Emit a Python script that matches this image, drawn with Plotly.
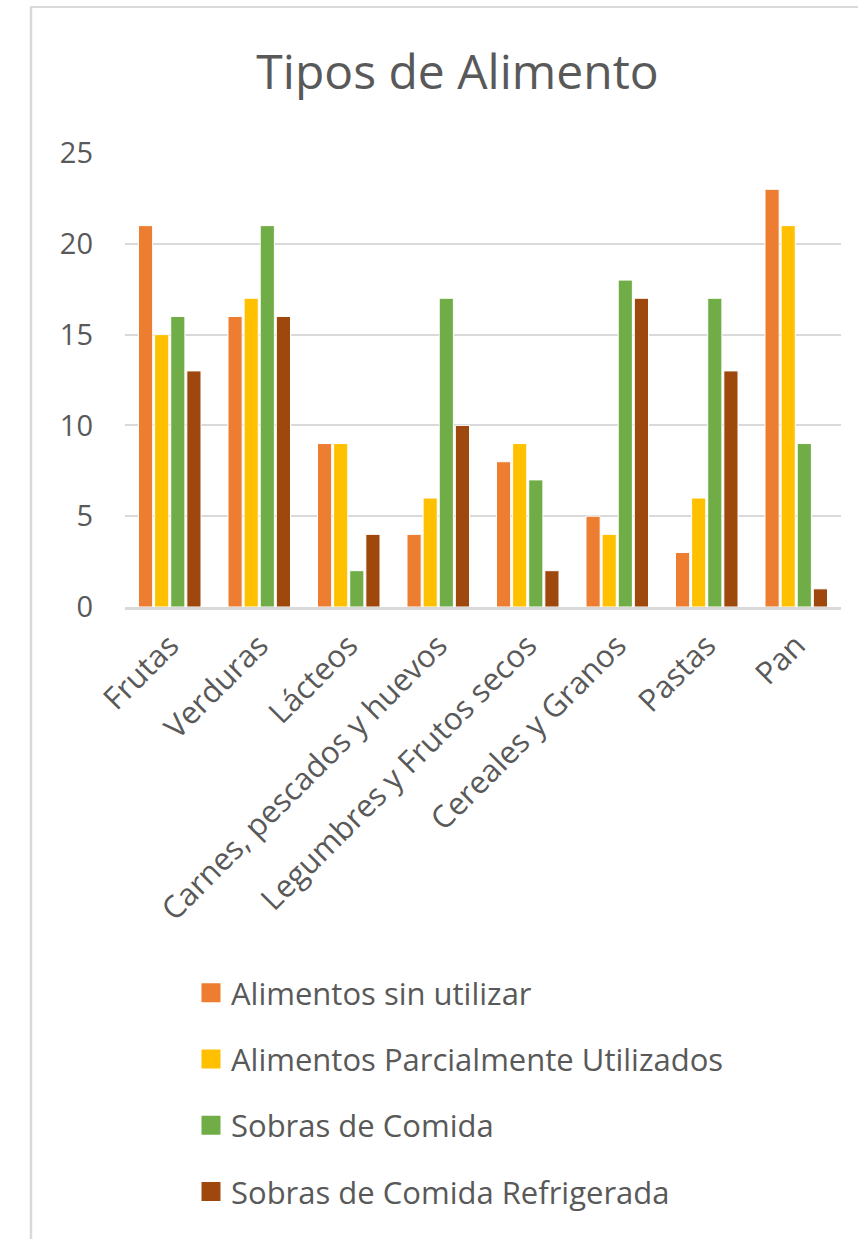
import plotly.graph_objects as go

categorias = ["Frutas", "Verduras", "Lácteos", "Carnes, pescados y huevos",
              "Legumbres y Frutos secos", "Cereales y Granos", "Pastas", "Pan"]

sin_utilizar = [21, 16, 9, 4, 8, 5, 3, 23]
parcialmente_utilizados = [15, 17, 9, 6, 9, 4, 6, 21]
sobras = [16, 21, 2, 17, 7, 18, 17, 9]
sobras_refrigeradas = [13, 16, 4, 10, 2, 17, 13, 1]

series = [
    ("Alimentos sin utilizar", sin_utilizar, "#ED7D31"),
    ("Alimentos Parcialmente Utilizados", parcialmente_utilizados, "#FFC000"),
    ("Sobras de Comida", sobras, "#70AD47"),
    ("Sobras de Comida Refrigerada", sobras_refrigeradas, "#9E480E"),
]

W, H = 858, 1239
L, R, T, B = 125, 17, 153, 632
FONT = "Open Sans"
GRAY = "#595959"
LINE = "#D9D9D9"

fig = go.Figure()
for i, (name, vals, color) in enumerate(series):
    fig.add_trace(go.Bar(
        x=categorias, y=vals, name=name, legendgroup=f"g{i}",
        showlegend=False,
        marker=dict(color=color, line=dict(color="white", width=1)),
    ))
    # square legend key for the series
    fig.add_trace(go.Scatter(
        x=[None], y=[None], mode="markers", name=name, legendgroup=f"g{i}",
        marker=dict(symbol="square", size=20, color=color,
                    line=dict(color=color, width=3)),
    ))

def px_x(px):
    return (px - L) / (W - L - R)

def px_y(py):
    return (H - B - py) / (H - T - B)

fig.update_layout(
    width=W, height=H,
    margin=dict(l=L, r=R, t=T, b=B),
    paper_bgcolor="white", plot_bgcolor="white",
    barmode="group", bargap=0.28, bargroupgap=0.12,
    font=dict(family=FONT, color=GRAY, size=29),
    title=dict(text="Tipos de Alimento", x=px_x(457.5), xref="paper",
               xanchor="center", y=1 - 72 / H, yanchor="middle",
               font=dict(size=48, color=GRAY, family=FONT)),
    xaxis=dict(showline=True, linecolor=LINE, linewidth=3, tickangle=-45,
               ticks="", showgrid=False, ticklabelstandoff=5,
               tickfont=dict(size=31, color=GRAY)),
    yaxis=dict(range=[0, 25], dtick=5, showgrid=True, gridcolor=LINE,
               gridwidth=1.5, zeroline=False, showline=False, ticks="",
               ticklabelstandoff=31, tickfont=dict(size=29, color=GRAY)),
    legend=dict(orientation="v", x=px_x(191), xanchor="left",
                y=px_y(966), yanchor="top", tracegroupgap=23,
                itemsizing="trace",
                font=dict(size=31, color=GRAY), itemwidth=30),
    showlegend=True,
    shapes=[
        dict(type="line", xref="paper", yref="paper",
             x0=px_x(31), x1=px_x(31), y0=px_y(7), y1=px_y(H + 5),
             line=dict(color=LINE, width=2.5)),
        dict(type="line", xref="paper", yref="paper",
             x0=px_x(30), x1=px_x(W + 5), y0=px_y(7), y1=px_y(7),
             line=dict(color=LINE, width=2)),
    ],
)

fig.write_html("out.html")
